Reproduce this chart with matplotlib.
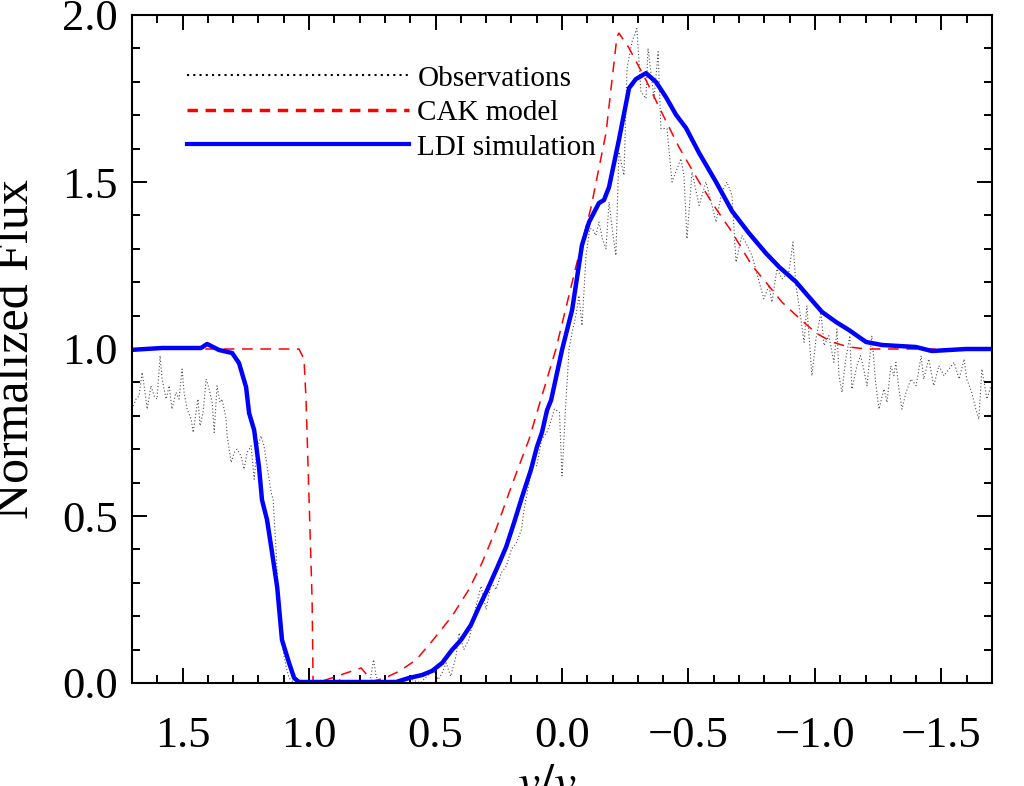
import numpy as np
import matplotlib
matplotlib.use('Agg')
import matplotlib.pyplot as plt
from matplotlib.lines import Line2D
from matplotlib.ticker import FuncFormatter

plt.rcParams['font.family'] = ['Liberation Serif', 'DejaVu Serif']
plt.rcParams['mathtext.fontset'] = 'stix'

# LDI simulation (blue)
ldi_v = [1.711, 1.581, 1.427, 1.403, 1.356, 1.304, 1.277, 1.249, 1.237, 1.217,
         1.198, 1.186, 1.166, 1.146, 1.126, 1.107, 1.079, 1.059, 1.040, 0.656,
         0.605, 0.553, 0.514, 0.474, 0.435, 0.399, 0.360, 0.328, 0.296, 0.257,
         0.221, 0.190, 0.158, 0.123, 0.099, 0.079, 0.059, 0.043, 0.000, -0.040,
         -0.079, -0.107, -0.146, -0.166, -0.186, -0.225, -0.265, -0.292, -0.332, -0.372,
         -0.411, -0.451, -0.490, -0.542, -0.609, -0.672, -0.739, -0.806, -0.858, -0.925,
         -0.976, -1.028, -1.083, -1.134, -1.202, -1.265, -1.332, -1.399, -1.462, -1.530,
         -1.597, -1.700]
ldi_f = [0.997, 1.003, 1.003, 1.015, 0.997, 0.988, 0.958, 0.886, 0.808, 0.757,
         0.647, 0.548, 0.488, 0.389, 0.287, 0.129, 0.060, 0.015, 0.003, 0.003,
         0.015, 0.024, 0.036, 0.060, 0.099, 0.129, 0.174, 0.228, 0.278, 0.344,
         0.407, 0.479, 0.557, 0.638, 0.707, 0.751, 0.817, 0.847, 0.997, 1.117,
         1.311, 1.380, 1.437, 1.446, 1.485, 1.626, 1.781, 1.808, 1.826, 1.799,
         1.754, 1.701, 1.662, 1.587, 1.500, 1.413, 1.347, 1.287, 1.246, 1.201,
         1.156, 1.111, 1.081, 1.057, 1.021, 1.012, 1.009, 1.006, 0.994, 0.997,
         1.000, 1.000]

# CAK model (red dashed)
cak_v = [1.70, 1.04, 1.02, 1.012, 1.00, 0.988, 0.984, 0.97, 0.794, 0.75,
         0.70, 0.644, 0.577, 0.514, 0.435, 0.368, 0.316, 0.261, 0.209, 0.170,
         0.130, 0.099, 0.024, -0.055, -0.115, -0.174, -0.217, -0.225, -0.265, -0.332,
         -0.395, -0.462, -0.542, -0.600, -0.672, -0.751, -0.806, -0.870, -0.937, -1.004,
         -1.067, -1.134, -1.202, -1.70]
cak_f = [1.0, 1.0, 0.97, 0.85, 0.55, 0.25, 0.0, 0.0, 0.045, 0.005,
         0.015, 0.035, 0.069, 0.125, 0.20, 0.28, 0.36, 0.46, 0.57, 0.65,
         0.73, 0.81, 1.0, 1.246, 1.425, 1.647, 1.934, 1.946, 1.901, 1.805,
         1.707, 1.605, 1.50, 1.43, 1.35, 1.25, 1.20, 1.14, 1.093, 1.048,
         1.021, 1.006, 1.0, 1.0]

# Observations (black dotted)
obs_v = [1.700, 1.684, 1.672, 1.660, 1.652, 1.640, 1.625, 1.613, 1.601, 1.589,
         1.581, 1.565, 1.553, 1.542, 1.526, 1.514, 1.502, 1.494, 1.482, 1.466,
         1.458, 1.447, 1.439, 1.431, 1.419, 1.407, 1.395, 1.383, 1.375, 1.364,
         1.352, 1.344, 1.328, 1.324, 1.308, 1.296, 1.285, 1.269, 1.257, 1.245,
         1.229, 1.217, 1.206, 1.190, 1.178, 1.166, 1.150, 1.142, 1.130, 1.123,
         1.111, 1.103, 1.091, 1.079, 1.059, 1.030, 1.000, 0.960, 0.920, 0.880,
         0.840, 0.800, 0.760, 0.745, 0.735, 0.720, 0.680, 0.640, 0.600, 0.560,
         0.534, 0.510, 0.490, 0.474, 0.458, 0.440, 0.419, 0.407, 0.388, 0.368,
         0.356, 0.340, 0.320, 0.300, 0.280, 0.260, 0.240, 0.220, 0.200, 0.180,
         0.160, 0.150, 0.130, 0.115, 0.100, 0.080, 0.060, 0.050, 0.030, 0.010,
         0.000, -0.016, -0.028, -0.040, -0.055, -0.067, -0.079, -0.095, -0.110, -0.120,
         -0.134, -0.146, -0.160, -0.174, -0.186, -0.200, -0.213, -0.225, -0.245, -0.257,
         -0.277, -0.296, -0.312, -0.332, -0.340, -0.364, -0.380, -0.391, -0.415, -0.435,
         -0.470, -0.482, -0.494, -0.514, -0.542, -0.569, -0.593, -0.609, -0.632, -0.652,
         -0.672, -0.688, -0.711, -0.739, -0.751, -0.780, -0.798, -0.818, -0.830, -0.850,
         -0.870, -0.897, -0.913, -0.925, -0.937, -0.957, -0.968, -0.988, -1.004, -1.024,
         -1.036, -1.055, -1.075, -1.087, -1.095, -1.107, -1.120, -1.138, -1.146, -1.166,
         -1.180, -1.190, -1.206, -1.225, -1.240, -1.253, -1.273, -1.285, -1.300, -1.312,
         -1.320, -1.332, -1.344, -1.360, -1.380, -1.400, -1.420, -1.430, -1.450, -1.470,
         -1.490, -1.510, -1.530, -1.550, -1.570, -1.590, -1.600, -1.620, -1.636, -1.648,
         -1.660, -1.680, -1.696]
obs_f = [0.82, 0.85, 0.86, 0.93, 0.89, 0.82, 0.89, 0.86, 0.85, 0.98,
         0.91, 0.85, 0.89, 0.82, 0.87, 0.85, 0.94, 0.87, 0.82, 0.79,
         0.75, 0.81, 0.85, 0.77, 0.81, 0.91, 0.88, 0.84, 0.75, 0.89,
         0.84, 0.85, 0.79, 0.74, 0.66, 0.69, 0.70, 0.68, 0.64, 0.69,
         0.71, 0.61, 0.70, 0.74, 0.71, 0.65, 0.57, 0.55, 0.39, 0.29,
         0.19, 0.10, 0.05, 0.015, 0.0, 0.008, 0.0, 0.006, 0.0, 0.01,
         0.0, 0.008, 0.0, 0.07, 0.02, 0.0, 0.006, 0.0, 0.012, 0.0,
         0.02, 0.04, 0.01, 0.03, 0.06, 0.02, 0.08, 0.15, 0.10, 0.13,
         0.17, 0.23, 0.29, 0.22, 0.30, 0.28, 0.33, 0.35, 0.40, 0.42,
         0.46, 0.52, 0.60, 0.66, 0.65, 0.73, 0.75, 0.77, 0.82, 0.81,
         0.62, 0.85, 1.00, 1.05, 1.10, 1.16, 1.07, 1.28, 1.36, 1.36,
         1.34, 1.38, 1.33, 1.30, 1.44, 1.35, 1.28, 1.59, 1.52, 1.84,
         1.92, 1.96, 1.77, 1.75, 1.90, 1.75, 1.89, 1.66, 1.66, 1.50,
         1.57, 1.52, 1.33, 1.53, 1.43, 1.50, 1.43, 1.38, 1.47, 1.50,
         1.46, 1.26, 1.34, 1.30, 1.28, 1.20, 1.15, 1.19, 1.14, 1.24,
         1.21, 1.23, 1.32, 1.19, 1.13, 1.02, 1.13, 0.92, 1.03, 1.11,
         1.01, 1.04, 0.96, 1.06, 0.92, 0.87, 0.96, 1.04, 0.88, 0.95,
         0.98, 0.95, 0.89, 1.04, 0.90, 0.82, 0.88, 0.84, 0.95, 0.92,
         0.96, 0.88, 0.82, 0.87, 0.91, 0.89, 0.98, 0.91, 0.97, 0.89,
         0.95, 0.92, 0.94, 0.96, 0.91, 0.97, 0.91, 0.87, 0.82, 0.79,
         0.94, 0.85, 0.89]

labels = ['Observations', 'CAK model', 'LDI simulation']


def fmt(v, pos):
    if abs(v) < 1e-9:
        v = 0.0
    return ('%.1f' % v).replace('-', '\u2212')


fig = plt.figure(figsize=(10.24, 7.86), dpi=100)
ax = fig.add_axes([132 / 1024, 103 / 786, 860 / 1024, 668 / 786])

ax.plot(obs_v, obs_f, color='0.3', ls=(0, (1, 2)), lw=0.8)
ax.plot(cak_v, cak_f, color='red', ls=(0, (7, 5)), lw=1.1)
ax.plot(ldi_v, ldi_f, color='blue', lw=3.2)

ax.set_xlim(1.7, -1.7)
ax.set_ylim(0, 2.0)
ax.set_xticks(np.arange(-1.5, 1.51, 0.5))
ax.set_xticks(np.arange(-1.7, 1.71, 0.1), minor=True)
ax.set_yticks(np.arange(0, 2.01, 0.5))
ax.set_yticks(np.arange(0, 2.01, 0.1), minor=True)
ax.xaxis.set_major_formatter(FuncFormatter(fmt))
ax.yaxis.set_major_formatter(FuncFormatter(fmt))

ax.tick_params(which='both', direction='in', top=True, right=True, width=1.4)
ax.tick_params(which='major', length=11, labelsize=32)
ax.tick_params(which='minor', length=5.5)
ax.tick_params(axis='x', which='major', pad=24)
ax.tick_params(axis='y', which='major', pad=10)
for s in ax.spines.values():
    s.set_linewidth(1.5)

ax.set_ylabel('Normalized Flux', fontsize=36)
ax.yaxis.set_label_coords(-0.108, 0.5)
ax.set_xlabel(r'$v/v_\infty$', fontsize=36, labelpad=5)

handles = [Line2D([], [], color='k', ls=(0, (1, 2)), lw=1.5),
           Line2D([], [], color='red', ls=(0, (3, 2.2)), lw=2.5),
           Line2D([], [], color='blue', lw=3)]
ax.legend(handles, labels, loc='upper left', bbox_to_anchor=(0.064, 0.925),
          frameon=False, fontsize=21, handlelength=7.6, handletextpad=0.3,
          labelspacing=0.28, borderaxespad=0, borderpad=0)

fig.savefig('out.png', dpi=100)
